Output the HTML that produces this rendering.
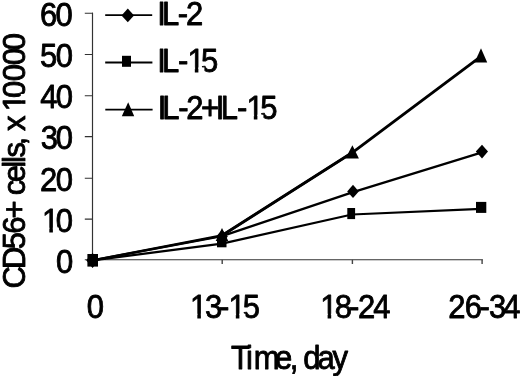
<!DOCTYPE html>
<html>
<head>
<meta charset="utf-8">
<title>CD56+ cells chart</title>
<style>
html,body{margin:0;padding:0;background:#fff;}
body{width:520px;height:376px;overflow:hidden;}
svg{display:block;}
text{font-family:"Liberation Sans",sans-serif;font-size:33px;fill:#000;stroke:#000;stroke-width:0.85px;stroke-linejoin:round;}
</style>
</head>
<body>
<svg width="520" height="376" viewBox="0 0 520 376">
<defs><filter id="soft" x="-5%" y="-5%" width="110%" height="110%"><feGaussianBlur stdDeviation="0.3"/></filter></defs>
<rect width="520" height="376" fill="#fff"/>
<g filter="url(#soft)">
<!-- axes -->
<g stroke="#333" stroke-width="1.15" fill="none">
<path d="M92.5 12.6V259.7"/>
<path d="M92.5 259.7H482.9"/>
</g>
<g stroke="#333" stroke-width="1.1" fill="none">
<path d="M84.8 13.2H92.5M84.8 54.5H92.5M84.8 95.7H92.5M84.8 136.6H92.5M84.8 178.3H92.5M84.8 219.1H92.5M84.8 259.8H92.5"/>
</g>
<g stroke="#444" stroke-width="1.4" fill="none">
<path d="M222.2 259.7V264M352.4 259.7V264M482.1 259.7V264M92.5 259.7V264"/>
</g>
<!-- labels -->
<text id="y60" transform="translate(0 25.60) scale(0.940 1)" x="42.44 59.12" y="0">60</text>
<text id="y50" transform="translate(0 66.70) scale(0.940 1)" x="42.58 59.28" y="0">50</text>
<text id="y40" transform="translate(0 108.10) scale(0.940 1)" x="42.84 59.44" y="0">40</text>
<text id="y30" transform="translate(0 149.30) scale(0.940 1)" x="43.37 59.33" y="0">30</text>
<text id="y20" transform="translate(0 190.60) scale(0.940 1)" x="42.55 59.44" y="0">20</text>
<text id="y10" transform="translate(0 231.90) scale(0.940 1)" x="44.61 59.44" y="0">10</text>
<g transform="translate(0 231.90) scale(0.940 1)" fill="#fff"><rect x="45.61" y="-4.2" width="6.85" height="6.6"/><rect x="56.26" y="-4.2" width="6.40" height="6.6"/></g>
<text id="y0" transform="translate(0 273.10) scale(0.940 1)" x="59.57" y="0">0</text>
<text id="x0" transform="translate(0 317.90) scale(0.940 1)" x="92.21" y="0">0</text>
<text id="x1" transform="translate(0 317.90) scale(0.940 1)" x="202.06 217.97 232.88 243.02 258.30" y="0">13-15</text>
<g transform="translate(0 317.90) scale(0.940 1)" fill="#fff"><rect x="203.06" y="-4.2" width="6.85" height="6.6"/><rect x="213.71" y="-4.2" width="6.40" height="6.6"/><rect x="244.02" y="-4.2" width="6.85" height="6.6"/><rect x="254.67" y="-4.2" width="6.40" height="6.6"/></g>
<text id="x2" transform="translate(0 317.90) scale(0.940 1)" x="340.68 356.17 371.18 380.80 396.99" y="0">18-24</text>
<g transform="translate(0 317.90) scale(0.940 1)" fill="#fff"><rect x="341.68" y="-4.2" width="6.85" height="6.6"/><rect x="352.33" y="-4.2" width="6.40" height="6.6"/></g>
<text id="x3" transform="translate(0 317.90) scale(0.940 1)" x="476.86 494.35 510.14 520.20 535.48" y="0">26-34</text>
<text id="xt" transform="translate(0 368.50) scale(0.940 1)" x="245.78 261.71 270.02 292.56 308.23 317.40 322.66 337.86 353.76" y="0">Time, day</text>
<text id="l1" transform="translate(0 24.80) scale(0.940 1)" x="167.41 172.33 189.00 197.82" y="0">IL-2</text>
<text id="l2" transform="translate(0 71.60) scale(0.940 1)" x="167.41 172.33 189.35 199.40 213.81" y="0">IL-15</text>
<g transform="translate(0 71.60) scale(0.940 1)" fill="#fff"><rect x="200.40" y="-4.2" width="6.85" height="6.6"/><rect x="211.05" y="-4.2" width="6.40" height="6.6"/></g>
<text id="l3" transform="translate(0 118.90) scale(0.940 1)" x="167.81 172.73 189.53 198.27 213.83 229.59 234.83 252.22 262.17 276.76" y="0">IL-2+IL-15</text>
<g transform="translate(0 118.90) scale(0.940 1)" fill="#fff"><rect x="263.17" y="-4.2" width="6.85" height="6.6"/><rect x="273.82" y="-4.2" width="6.40" height="6.6"/></g>
<text id="yt" style="font-size:31.5px" transform="translate(25.00 288.00) rotate(-90) scale(0.985 1)" x="-0.61 19.38 39.37 55.09 70.61 89.00 94.21 107.26 121.98 126.90 132.51 144.74 153.49 159.33 175.08 179.48 192.86 210.02 226.19 241.42" y="0">CD56+ cells, x 10000</text>
<g transform="translate(25.00 288.00) rotate(-90) scale(0.985 1)" fill="#fff"><rect x="180.43" y="-4.2" width="6.52" height="6.6"/><rect x="190.62" y="-4.2" width="6.40" height="6.6"/></g>
<!-- legend -->
<g stroke="#000" stroke-width="1.8" fill="none">
<path d="M105.2 15.1H152.2M105.2 62.5H152.4M105.3 109.6H152.6"/>
</g>
<polygon points="121.5,15.4 127.8,8.5 134,15.4 127.8,22.3"/>
<rect x="122" y="55.8" width="9" height="11"/>
<polygon points="128.2,102.3 134.2,116.2 121.8,116.2"/>
<!-- series -->
<g stroke="#000" fill="none" stroke-linejoin="round" stroke-linecap="round">
<polyline stroke-width="2.3" points="92.5,260.3 222,235.5 352,152.8"/>
<polyline stroke-width="2.9" points="222,235.5 352,152.8 481,56.3"/>
<polyline stroke-width="2.2" points="92.5,260.3 222,236.1 353,192.1 482,152.4"/>
<polyline stroke-width="2.2" points="92.5,260.3 222,243.6 352,214.5 481,208.9"/>
</g>
<!-- markers -->
<g fill="#000">
<rect x="87.4" y="254" width="10.6" height="12.6"/>
<polygon points="86.2,260.2 92.6,253 98.8,260.2 92.6,268"/>
<polygon points="222,228 228.3,241 215.7,241"/>
<polygon points="216.2,236.5 222,229.8 227.8,236.5 222,243.2"/>
<rect x="217" y="237" width="9.5" height="10.3"/>
<polygon points="352.4,145.2 358.9,158.6 345.5,158.6"/>
<polygon points="347.2,191.4 353,184.7 358.8,191.4 353,198"/>
<rect x="347.3" y="208" width="7.8" height="11.1"/>
<polygon points="481,48.2 487.2,62.4 474.6,62.4"/>
<polygon points="475.8,151.6 482,144.7 488,151.6 482,158.5"/>
<rect x="476" y="201.9" width="10.3" height="11"/>
</g>
</g>
</svg>
</body>
</html>
